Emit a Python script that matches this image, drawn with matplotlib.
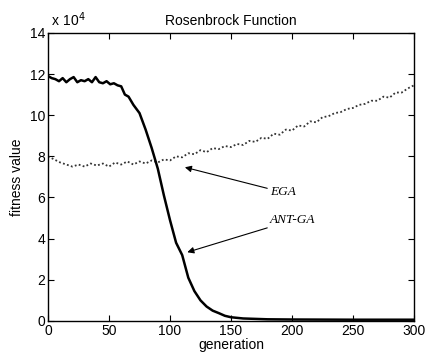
import matplotlib.pyplot as plt
import numpy as np

plt.rcParams['font.family'] = ['Liberation Sans', 'DejaVu Sans']

# fitness values, in units of 1e4
ant_gen = [0, 3, 6, 9, 12, 15, 18, 21, 24, 27, 30, 33, 36, 39, 42, 45, 48, 51, 54, 57, 60,
           63, 66, 70, 75, 80, 85, 90, 95, 100, 105, 110, 115, 120, 125, 130, 135, 140,
           145, 150, 160, 180, 200, 250, 300]
ant_val = [11.9, 11.8, 11.75, 11.65, 11.8, 11.6, 11.75, 11.85, 11.6, 11.7, 11.65, 11.75,
           11.6, 11.85, 11.6, 11.55, 11.65, 11.5, 11.55, 11.45, 11.4,
           11.0, 10.9, 10.5, 10.1, 9.3, 8.4, 7.4, 6.1, 4.9, 3.8, 3.2, 2.1, 1.45, 1.0, 0.7,
           0.5, 0.38, 0.25, 0.18, 0.12, 0.08, 0.07, 0.06, 0.06]

ega_gen = [0, 5, 10, 15, 20, 25, 30, 35, 40, 45, 50, 55, 60, 65, 70, 75, 80, 85, 90, 95,
           100, 105, 110, 115, 120, 125, 130, 135, 140, 145, 150, 155, 160, 165, 170, 175,
           180, 185, 190, 195, 200, 205, 210, 215, 220, 225, 230, 235, 240, 245, 250, 255,
           260, 265, 270, 275, 280, 285, 290, 295, 300]
ega_val = [8.0, 7.85, 7.7, 7.6, 7.5, 7.6, 7.5, 7.65, 7.55, 7.65, 7.5, 7.7, 7.6, 7.75, 7.6,
           7.75, 7.65, 7.8, 7.7, 7.85, 7.8, 8.0, 7.95, 8.15, 8.1, 8.3, 8.2, 8.4, 8.35, 8.5,
           8.45, 8.6, 8.55, 8.75, 8.7, 8.9, 8.85, 9.1, 9.05, 9.3, 9.25, 9.5, 9.45, 9.7, 9.65,
           9.9, 9.95, 10.1, 10.15, 10.3, 10.35, 10.5, 10.55, 10.7, 10.7, 10.9, 10.85, 11.1,
           11.1, 11.3, 11.45]

fig = plt.figure(figsize=(4.25, 3.57), dpi=100)
ax = fig.add_axes([0.113, 0.101, 0.861, 0.807])

ax.plot(ega_gen, ega_val, color='#333333', linestyle=(0, (1, 1.3)), linewidth=1.3)
ax.plot(ant_gen, ant_val, color='black', linewidth=1.8)

ax.set_xlim(0, 300)
ax.set_ylim(0, 14)
ax.set_xticks(np.arange(0, 301, 50))
ax.set_yticks(np.arange(0, 15, 2))
ax.tick_params(direction='in', top=True, right=True, labelsize=10, length=4, pad=2)
for s in ax.spines.values():
    s.set_linewidth(1.0)

ax.set_title('Rosenbrock Function', fontsize=10, pad=6)
ax.set_xlabel('generation', fontsize=10, labelpad=0)
ax.set_ylabel('fitness value', fontsize=10, labelpad=4)
ax.text(0.0, 1.015, ' x 10$^4$', transform=ax.transAxes, fontsize=10, va='bottom')

ax.annotate('EGA', xy=(110, 7.5), xytext=(182, 6.25), fontsize=9.5,
            family='Liberation Serif', style='italic', va='center',
            arrowprops=dict(arrowstyle='-|>', color='black', lw=0.8, shrinkA=0))
ax.annotate('ANT-GA', xy=(112, 3.3), xytext=(182, 4.9), fontsize=9.5,
            family='Liberation Serif', style='italic', va='center',
            arrowprops=dict(arrowstyle='-|>', color='black', lw=0.8, shrinkA=0))

fig.savefig('out.png', dpi=100)
